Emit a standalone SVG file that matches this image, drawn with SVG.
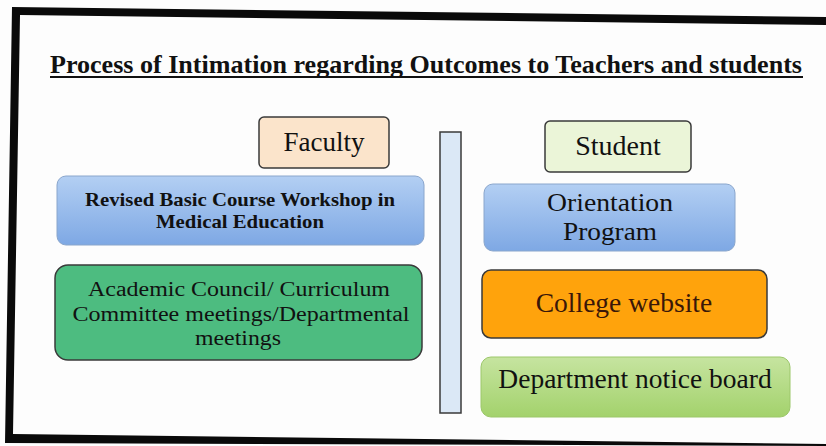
<svg xmlns="http://www.w3.org/2000/svg" width="826" height="446" viewBox="0 0 826 446">
<defs>
<linearGradient id="gBlue" x1="0" y1="0" x2="0" y2="1">
<stop offset="0" stop-color="#b3cff3"/><stop offset="1" stop-color="#7ea8e4"/>
</linearGradient>
<linearGradient id="gLime" x1="0" y1="0" x2="0" y2="1">
<stop offset="0" stop-color="#c6e4a0"/><stop offset="1" stop-color="#a3d26c"/>
</linearGradient>
<style>
.t{font-family:"Liberation Serif","Times New Roman",serif;fill:#111;text-anchor:middle}
.b{stroke:#3a3a3a;stroke-width:1.5}
.s{stroke:#8aa6cc;stroke-width:1}
</style>
</defs>
<rect width="826" height="446" fill="#fdfdfd"/>
<path d="M12 7 L826 17 L826 25 L20 15 L13 434 L826 444 L826 446 L5 443 Z" fill="#0a0a0a"/>
<text class="t" x="426" y="73" font-size="25" font-weight="bold" textLength="752" lengthAdjust="spacingAndGlyphs">Process of Intimation regarding Outcomes to Teachers and students</text>
<rect x="50" y="76" width="753" height="2" fill="#111"/>
<g id="connectors"></g>
<g id="faculty"><rect class="b" x="259" y="117" width="130" height="51" rx="5" fill="#fbe4cb"/><text class="t" x="324" y="151" font-size="27">Faculty</text></g>
<g id="rbcw"><rect class="s" x="57" y="176" width="367" height="69" rx="9" fill="url(#gBlue)"/><text class="t" x="240" y="206" font-size="19" font-weight="bold" textLength="310" lengthAdjust="spacingAndGlyphs">Revised Basic Course Workshop in</text><text class="t" x="240" y="228" font-size="19" font-weight="bold" textLength="168" lengthAdjust="spacingAndGlyphs">Medical Education</text></g>
<g id="academic"><rect class="b" x="55" y="265" width="367" height="95" rx="13" fill="#4dbc80"/><text class="t" x="239" y="296" font-size="20.5" textLength="302" lengthAdjust="spacingAndGlyphs">Academic Council/ Curriculum</text><text class="t" x="241" y="321" font-size="20.5" textLength="337" lengthAdjust="spacingAndGlyphs">Committee meetings/Departmental</text><text class="t" x="238" y="345" font-size="20.5" textLength="86" lengthAdjust="spacingAndGlyphs">meetings</text></g>
<g id="divider"><rect class="b" x="440" y="132" width="21" height="281" fill="#dbe8f6"/></g>
<g id="student"><rect class="b" x="545" y="121" width="146" height="51" rx="5" fill="#ebf5d8"/><text class="t" x="618" y="155" font-size="28">Student</text></g>
<g id="orientation"><rect class="s" x="484" y="184" width="251" height="67" rx="9" fill="url(#gBlue)"/><text class="t" x="610" y="211" font-size="25" textLength="126" lengthAdjust="spacingAndGlyphs">Orientation</text><text class="t" x="610" y="240" font-size="25" textLength="94" lengthAdjust="spacingAndGlyphs">Program</text></g>
<g id="website"><rect class="b" x="482" y="270" width="285" height="68" rx="9" fill="#ffa30c"/><text class="t" x="624" y="312" font-size="27.5" style="fill:#3a1708">College website</text></g>
<g id="notice"><rect x="481" y="357" width="309" height="60" rx="10" fill="url(#gLime)" stroke="#9cc76a" stroke-width="1"/><text class="t" x="635" y="388" font-size="27.5">Department notice board</text></g>
</svg>
